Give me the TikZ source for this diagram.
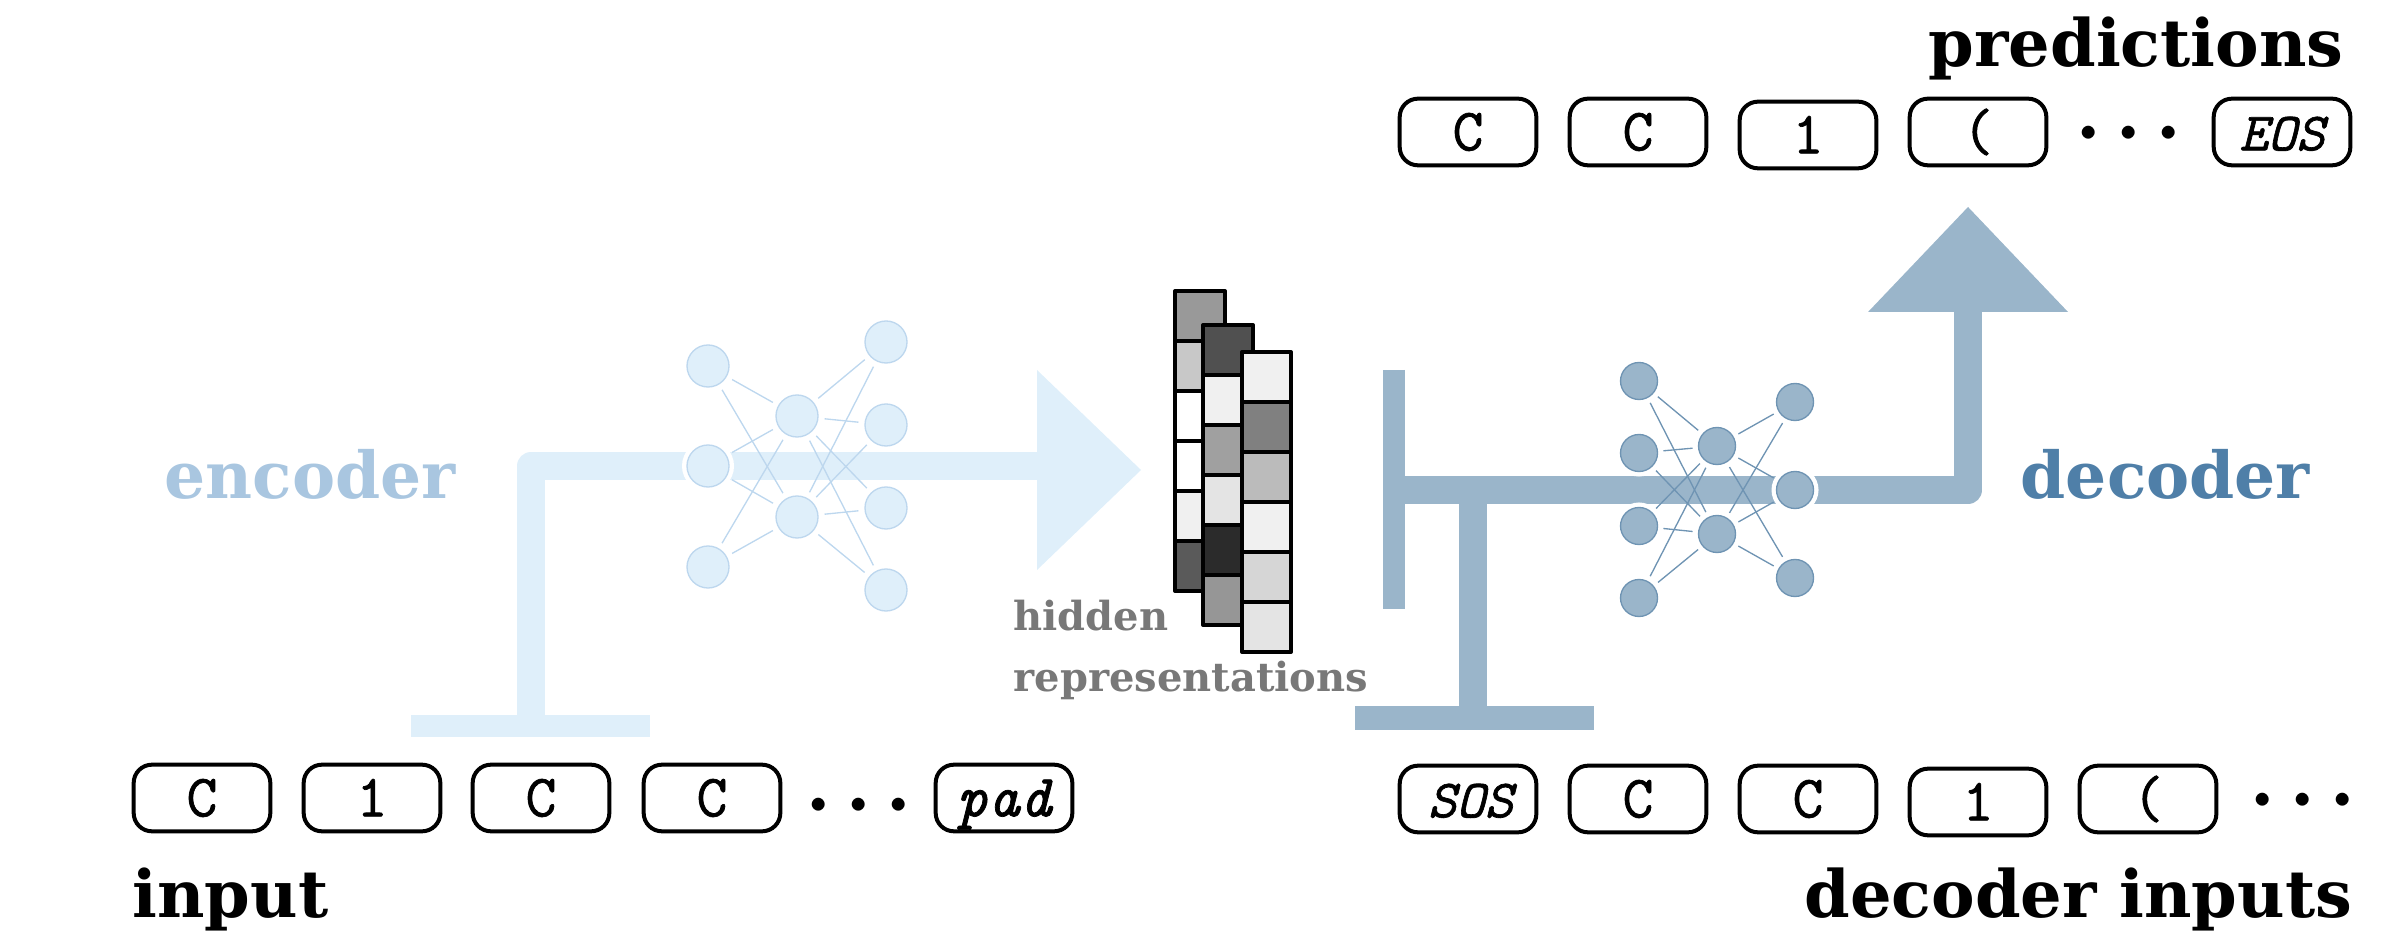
\documentclass[tikz,border=0pt]{standalone}
\usepackage{fontspec}
\setmainfont{DejaVu Serif}
\newfontfamily\tokf[FakeBold=1.2,ItalicFeatures={FakeBold=1.2}]{Latin Modern Mono}
\usetikzlibrary{calc}
\definecolor{encC}{HTML}{DFEFFA}
\definecolor{encL}{HTML}{BDD7EE}
\definecolor{encT}{HTML}{A9C6E0}
\definecolor{decC}{HTML}{9AB5CA}
\definecolor{decL}{HTML}{6F94B3}
\definecolor{decT}{HTML}{4F7FA8}
\tikzset{
  x=0.3pt,y=-0.3pt,
  tokbox/.style={draw=black,line width=1.2pt,rounded corners=5.5pt,minimum width=41pt,minimum height=20pt,
    inner sep=0pt,text height=11pt,text depth=0pt,font=\fontsize{18}{18}\tokf},
  dotsrow/.style={anchor=base,inner sep=0pt,font=\Huge\boldmath},
  bigtext/.style={anchor=base west,inner sep=0pt,font=\fontsize{19.6}{19.6}\bfseries},
  midtext/.style={anchor=base west,inner sep=0pt,font=\fontsize{19.4}{19.4}\bfseries},
  smalltext/.style={anchor=base west,inner sep=0pt,text=black!53,font=\fontsize{12}{12}\bfseries},
  cell/.style={draw=black,line width=1.2pt,line join=round},
  encshaft/.style={draw=encC,line width=8.4pt,line join=round},
  decshaft/.style={draw=decC,line width=8.4pt,line join=round},
  encnode/.style={circle,fill=encC,draw=encL,line width=0.4pt,minimum size=12.6pt,inner sep=0pt,outer sep=2pt,
    preaction={draw=white,line width=3pt}},
  decnode/.style={circle,fill=decC,draw=decL,line width=0.4pt,minimum size=11.1pt,inner sep=0pt,outer sep=1.8pt,
    preaction={draw=white,line width=3pt}},
  encedge/.style={draw=encL,line width=0.4pt},
  decedge/.style={draw=decL,line width=0.4pt},
}
\newcommand{\tokn}[5][]{\node[tokbox,#1] (#2) at (#3,#4) {#5};}
\newcommand{\tdots}{$\mathord{\cdot}\mkern2.6mu\mathord{\cdot}\mkern2.6mu\mathord{\cdot}$}
\newcommand{\smit}{\fontsize{16.2}{16.2}\selectfont\itshape}
\begin{document}
\begin{tikzpicture}
\useasboundingbox (0,0) rectangle (2385,945);

% encoder shaft
\coordinate (eBarL) at (411,726); \coordinate (eBarR) at (650,726);
\coordinate (eBarM) at (531,726); \coordinate (eCorner) at (531,466);
\coordinate (eEnd) at (1040,466);
\draw[encshaft] (eBarM) -- (eCorner) -- (eEnd);
\draw[encshaft,line width=6.6pt] (eBarL) -- (eBarR);
\coordinate (eA) at (1037,370); \coordinate (eB) at (1141,470); \coordinate (eC) at (1037,570);
\fill[encC] (eA) -- (eB) -- (eC) -- cycle;

% decoder shaft
\coordinate (dTopBarT) at (1394,370); \coordinate (dTopBarB) at (1394,609);
\coordinate (dStart) at (1394,490); \coordinate (dCorner) at (1968,490);
\coordinate (dTop) at (1968,305);
\coordinate (dLowT) at (1473,490); \coordinate (dLowB) at (1473,718);
\coordinate (dBarL) at (1355,718); \coordinate (dBarR) at (1594,718);
\draw[decshaft] (dStart) -- (dCorner) -- (dTop);
\draw[decshaft] (dLowT) -- (dLowB);
\draw[decshaft,line width=6.6pt] (dTopBarT) -- (dTopBarB);
\draw[decshaft,line width=6.9pt] (dBarL) -- (dBarR);
\coordinate (dA) at (1868,312); \coordinate (dB) at (1968,207); \coordinate (dC) at (2068,312);
\fill[decC] (dA) -- (dB) -- (dC) -- cycle;

% encoder network
\foreach \n/\x/\y in {a1/708/366,a2/708/466,a3/708/567,b1/797/416,b2/797/517,c1/886/342,c2/886/425,c3/886/508,c4/886/590}
  \node[encnode] (\n) at (\x,\y) {};
\foreach \s in {a1,a2,a3} \foreach \t in {b1,b2} \draw[encedge] (\s) -- (\t);
\foreach \s in {b1,b2} \foreach \t in {c1,c2,c3,c4} \draw[encedge] (\s) -- (\t);

% decoder network
\foreach \n/\x/\y in {p1/1639/381,p2/1639/453,p3/1639/526,p4/1639/598,q1/1717/446,q2/1717/534,r1/1795/402,r2/1795/490,r3/1795/578}
  \node[decnode] (\n) at (\x,\y) {};
\foreach \s in {p1,p2,p3,p4} \foreach \t in {q1,q2} \draw[decedge] (\s) -- (\t);
\foreach \s in {q1,q2} \foreach \t in {r1,r2,r3} \draw[decedge] (\s) -- (\t);

% hidden representations
\foreach \i/\c in {0/999999,1/C8C8C8,2/FFFFFF,3/FFFFFF,4/F0F0F0,5/5A5A5A}
  {\definecolor{cc}{HTML}{\c}\draw[cell,fill=cc] (1175,291+50*\i) rectangle (1225,341+50*\i);}
\foreach \i/\c in {0/505050,1/F0F0F0,2/A0A0A0,3/E4E4E4,4/2B2B2B,5/969696}
  {\definecolor{cc}{HTML}{\c}\draw[cell,fill=cc] (1203,325+50*\i) rectangle (1253,375+50*\i);}
\foreach \i/\c in {0/F0F0F0,1/808080,2/BBBBBB,3/F0F0F0,4/D6D6D6,5/E4E4E4}
  {\definecolor{cc}{HTML}{\c}\draw[cell,fill=cc] (1242,352+50*\i) rectangle (1291,402+50*\i);}

% tokens: predictions
\tokn{t1}{1468}{132}{C}
\tokn{t2}{1638}{132}{C}
\tokn{t3}{1808}{135}{1}
\tokn{t4}{1978}{132}{(}
\node[dotsrow] (t5) at (2129,154) {\tdots};
\tokn{t6}{2282}{132}{\smit EOS}

% tokens: input
\tokn{i1}{202}{798}{C}
\tokn{i2}{372}{798}{1}
\tokn{i3}{541}{798}{C}
\tokn{i4}{712}{798}{C}
\node[dotsrow] (i5) at (859,825) {\tdots};
\tokn{i6}{1004}{798}{\itshape pad}

% tokens: decoder inputs
\tokn{s1}{1468}{799}{\hspace{1.5pt}\smit SOS}
\tokn{s2}{1638}{799}{C}
\tokn{s3}{1808}{799}{C}
\tokn{s4}{1978}{802}{1}
\tokn{s5}{2148}{799}{(}
\node[dotsrow] (s6) at (2303,820) {\tdots};

% labels
\node[bigtext] (lpred) at (1928,67) {predictions};
\node[bigtext] (linput) at (132,917) {input};
\node[bigtext] (ldeci) at (1804,917) {decoder inputs};
\node[midtext,text=encT] (lenc) at (164,499) {encoder};
\node[midtext,text=decT] (ldec) at (2020,499) {decoder};
\node[smalltext] (lh1) at (1013,631) {hidden};
\node[smalltext] (lh2) at (1013,692) {representations};
\end{tikzpicture}
\end{document}
